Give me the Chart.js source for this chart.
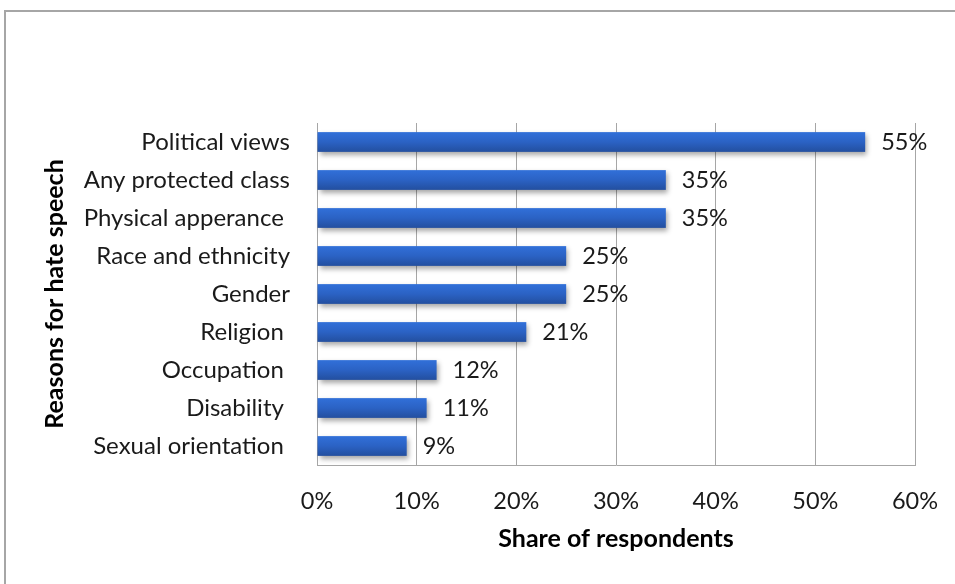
<!DOCTYPE html>
<html>
<head>
<meta charset="utf-8">
<script src="https://cdn.jsdelivr.net/npm/chart.js@4/dist/chart.umd.min.js"></script>
<style>
  html, body { margin: 0; padding: 0; background: #fff; }
  #wrap { width: 955px; height: 584px; position: relative; }
</style>
</head>
<body>
<div id="wrap"><canvas id="c" width="955" height="584"></canvas></div>
<script>
// Reasons for hate speech, share of respondents (%)
const categories = [
  'Political views',
  'Any protected class',
  'Physical apperance ',
  'Race and ethnicity',
  'Gender',
  'Religion ',
  'Occupation ',
  'Disability ',
  'Sexual orientation '
];
const shares = [55, 35, 35, 25, 25, 21, 12, 11, 9];
const xTicks = [0, 10, 20, 30, 40, 50, 60];

const FONT = 'Lato, "Open Sans", sans-serif';
const GRID = '#a6a6a6';

// Bars painted with a vertical gradient and a soft drop shadow,
// using the geometry computed by the bar controller
const barStyle = {
  id: 'barStyle',
  beforeDatasetDraw(chart) {
    const ctx = chart.ctx;
    const meta = chart.getDatasetMeta(0);
    ctx.save();
    meta.data.forEach(bar => {
      const top = bar.y - bar.height / 2;
      const left = Math.min(bar.base, bar.x);
      const w = Math.abs(bar.x - bar.base);
      const g = ctx.createLinearGradient(0, top, 0, top + bar.height);
      g.addColorStop(0, '#3170d9');
      g.addColorStop(0.5, '#2b62c4');
      g.addColorStop(1, '#234f9f');
      ctx.shadowColor = 'rgba(0,0,0,0.35)';
      ctx.shadowBlur = 5;
      ctx.shadowOffsetX = 2;
      ctx.shadowOffsetY = 3;
      ctx.fillStyle = g;
      ctx.fillRect(left, top, w, bar.height);
    });
    ctx.restore();
    return false;
  }
};

// Value labels at bar ends, axis titles and outer frame
const decorations = {
  id: 'decorations',
  afterDraw(chart) {
    const ctx = chart.ctx;
    const area = chart.chartArea;
    ctx.save();
    // value labels
    ctx.font = '23.5px ' + FONT;
    ctx.fillStyle = '#1a1a1a';
    ctx.textAlign = 'left';
    ctx.textBaseline = 'middle';
    chart.getDatasetMeta(0).data.forEach((bar, i) => {
      ctx.fillText(shares[i] + '%', bar.x + 16, bar.y + 0.5);
    });
    // axis titles
    ctx.font = 'bold 25px ' + FONT;
    ctx.fillStyle = '#000';
    ctx.textAlign = 'center';
    ctx.textBaseline = 'alphabetic';
    ctx.fillText('Share of respondents', (area.left + area.right) / 2, 547);
    ctx.translate(63, (area.top + area.bottom) / 2);
    ctx.rotate(-Math.PI / 2);
    ctx.fillText('Reasons for hate speech', 0, 0);
    ctx.restore();
    // frame
    ctx.save();
    ctx.strokeStyle = '#a6a6a6';
    ctx.lineWidth = 2;
    ctx.strokeRect(5, 11, 2000, 2000);
    ctx.restore();
  }
};

new Chart(document.getElementById('c'), {
  type: 'bar',
  data: {
    labels: categories,
    datasets: [{
      data: shares,
      backgroundColor: '#2b62c4',
      borderWidth: 0,
      categoryPercentage: 1,
      barPercentage: 0.52
    }]
  },
  plugins: [barStyle, decorations],
  options: {
    indexAxis: 'y',
    responsive: false,
    animation: false,
    layout: { padding: { top: 123, right: 40, bottom: 0, left: 0 } },
    plugins: { legend: { display: false }, tooltip: { enabled: false } },
    scales: {
      x: {
        min: 0,
        max: 60,
        afterBuildTicks(scale) { scale.ticks = xTicks.map(v => ({ value: v })); },
        afterFit(scale) {
          scale.height = 119;
          scale.paddingLeft = 0;
          scale.paddingRight = 0;
        },
        grid: { color: GRID, lineWidth: 1, drawTicks: false },
        border: { color: GRID, width: 1 },
        ticks: {
          padding: 22,
          color: '#1a1a1a',
          font: { family: FONT, size: 23.5 },
          callback: v => v + '%'
        }
      },
      y: {
        afterFit(scale) { scale.width = 317; },
        grid: { display: false, drawTicks: false },
        border: { color: GRID, width: 1 },
        ticks: {
          padding: 27,
          color: '#1a1a1a',
          font: { family: FONT, size: 24 }
        }
      }
    }
  }
});
</script>
</body>
</html>
